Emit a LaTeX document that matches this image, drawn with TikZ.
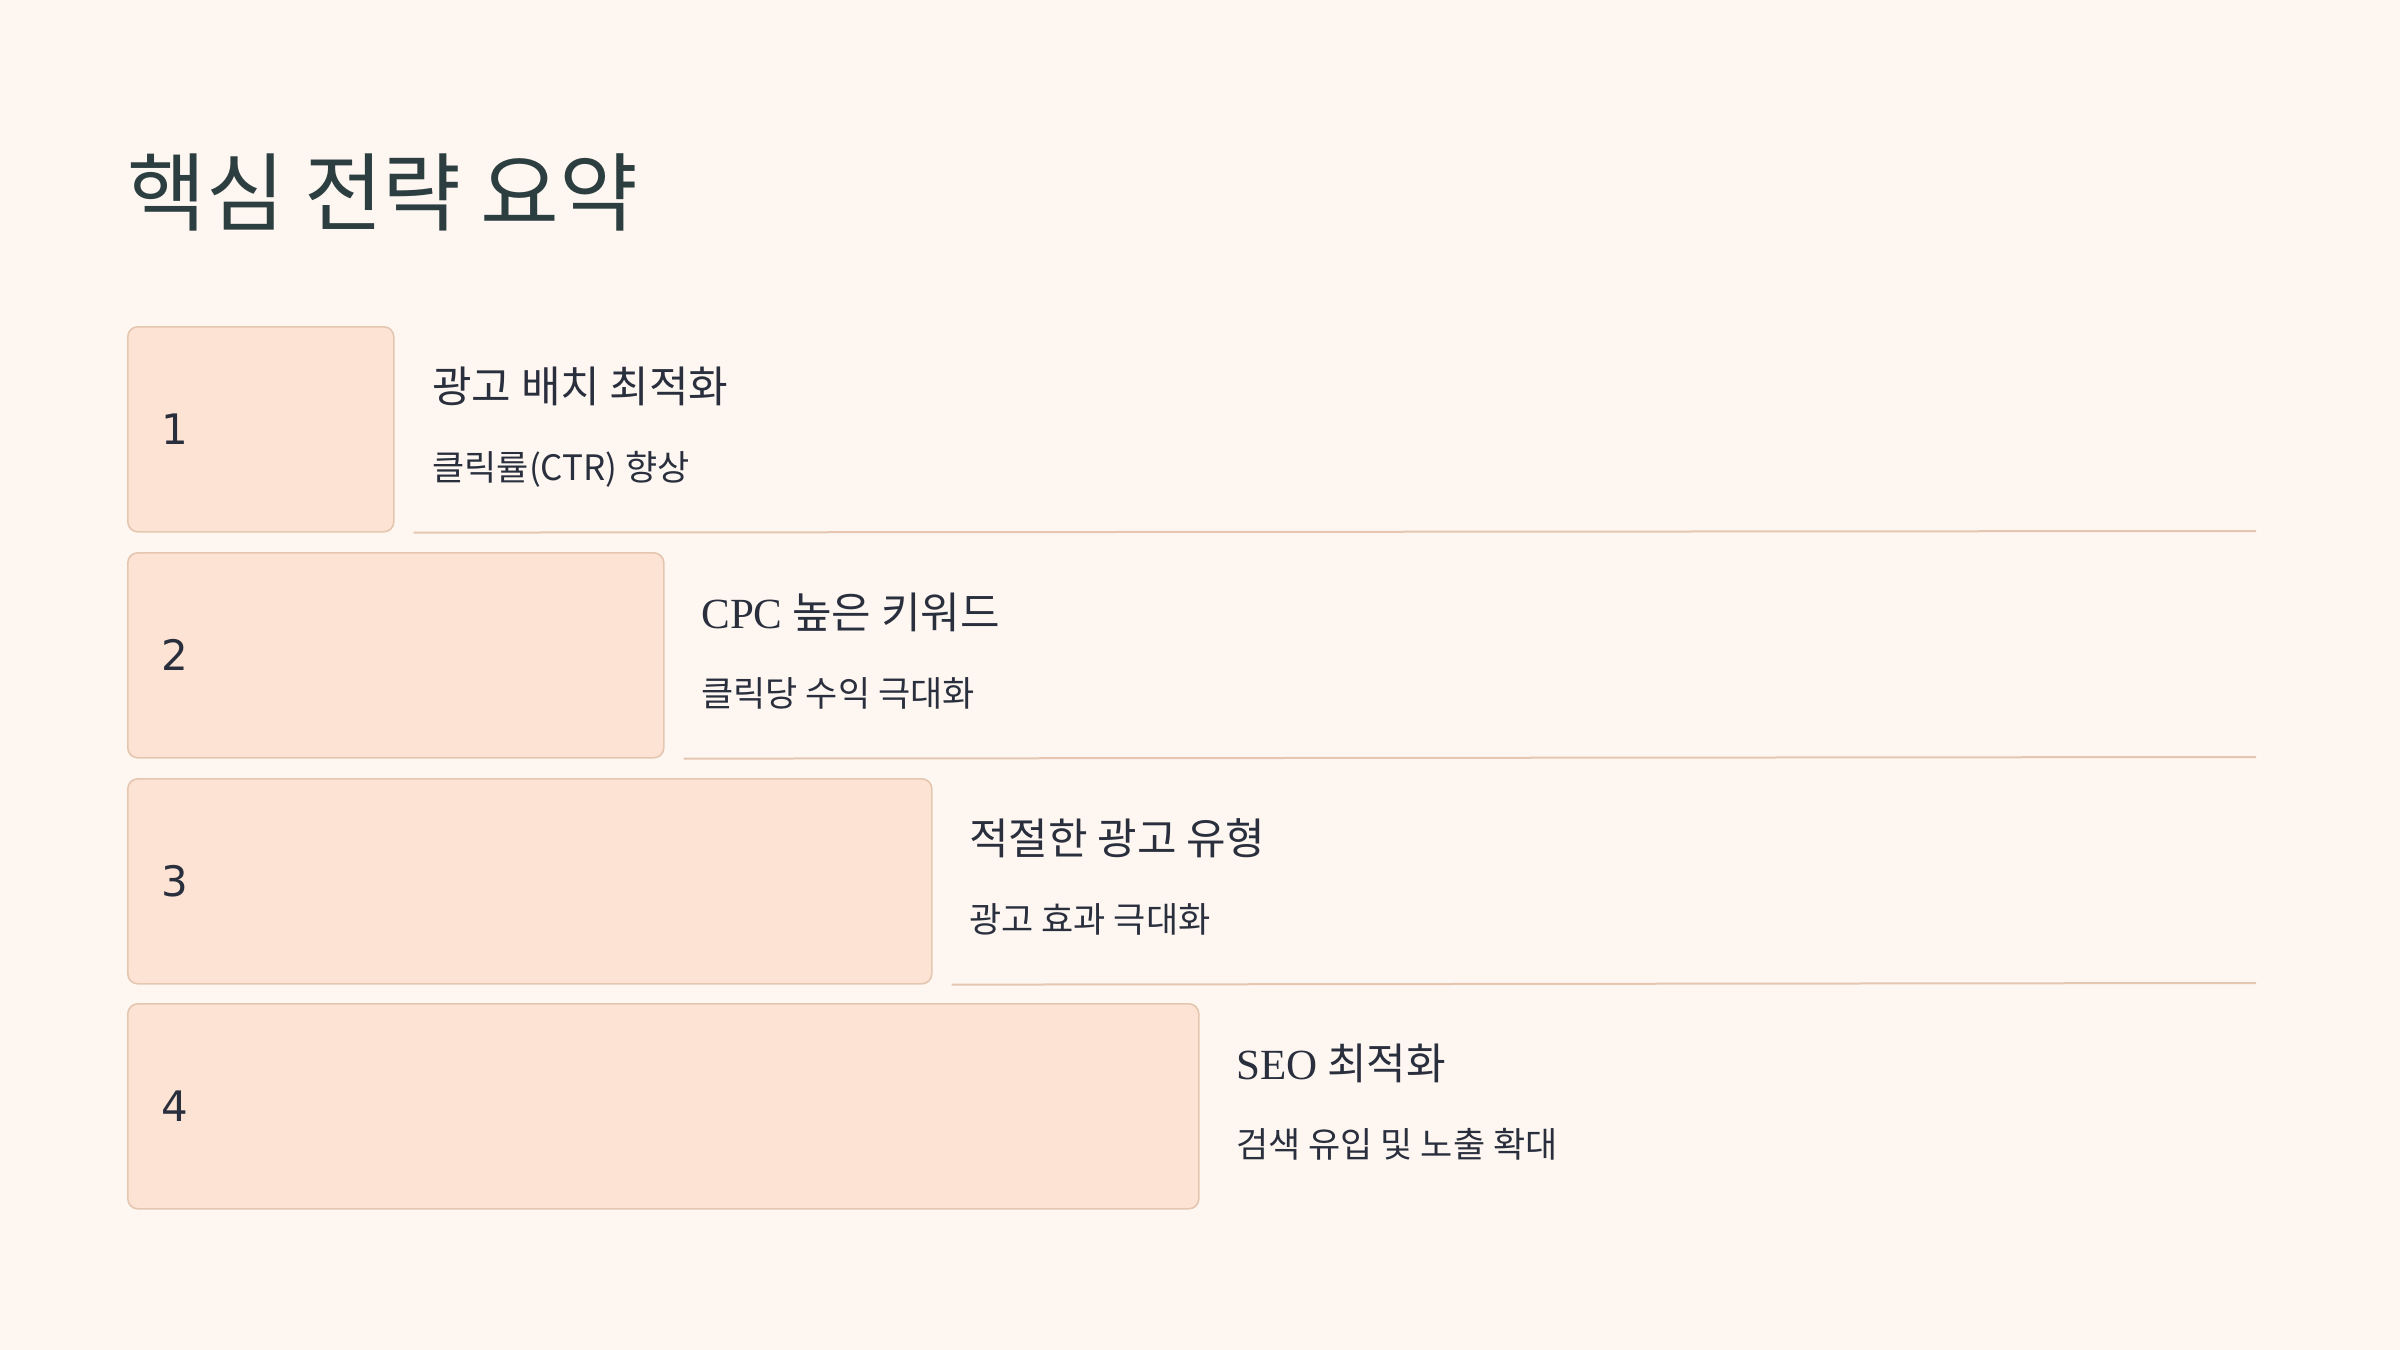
\documentclass[tikz,border=0pt]{standalone}
\usepackage{fontspec}
\setmainfont{Noto Sans CJK KR}[RawFeature=+palt]
\newfontfamily\kr{Noto Sans CJK KR}[RawFeature=+palt]
\newfontfamily\lat{Liberation Serif}[Scale=1.0]
\newfontfamily\numf{DejaVu Sans}
\definecolor{bgc}{HTML}{FEF7F1}
\definecolor{boxfill}{HTML}{FDE3D3}
\definecolor{boxline}{HTML}{E4C6B1}
\definecolor{titlec}{HTML}{2D3E40}
\definecolor{txtc}{HTML}{2A2F3E}
\tikzset{
  box/.style={draw=boxline, fill=boxfill, line width=0.8pt, rounded corners=5pt, anchor=north west, inner sep=0pt, minimum height=102.5pt},
  numtxt/.style={anchor=base west, inner sep=0pt, text=txtc, font=\numf\fontsize{21pt}{25pt}\selectfont},
  headtxt/.style={anchor=base west, inner sep=0pt, text=txtc, font=\kr\fontsize{21.5pt}{26pt}\selectfont},
  subtxt/.style={anchor=base west, inner sep=0pt, text=txtc, font=\kr\fontsize{17.5pt}{21pt}\selectfont},
  sepline/.style={draw=boxline, line width=1pt},
}
\begin{document}
\begin{tikzpicture}[x=0.5pt,y=-0.5pt]
\path[use as bounding box, fill=bgc] (0,0) rectangle (2400,1350);
\node[anchor=base west, inner sep=0pt, text=titlec, font=\kr\fontsize{42.8pt}{50pt}\selectfont] (title) at (127,224) {핵심 전략 요약};
% row 1
\node[box, minimum width=133pt] (b1) at (127,326) {};
\node[numtxt] (n1) at (161,444) {1};
\node[headtxt] (h1) at (432,402) {광고 배치 최적화};
\node[subtxt] (s1) at (432,480) {클릭률(CTR) 향상};
\coordinate (e1) at (2256,531);
\draw[sepline] ([xshift=9.5pt]b1.south east) -- (e1);
% row 2
\node[box, minimum width=268pt] (b2) at (127,552) {};
\node[numtxt] (n2) at (161,670) {2};
\node[headtxt] (h2) at (701,628) {{\lat CPC} 높은 키워드};
\node[subtxt] (s2) at (701,706) {클릭당 수익 극대화};
\coordinate (e2) at (2256,757);
\draw[sepline] ([xshift=9.5pt]b2.south east) -- (e2);
% row 3
\node[box, minimum width=402pt] (b3) at (127,778) {};
\node[numtxt] (n3) at (161,896) {3};
\node[headtxt] (h3) at (969,854) {적절한 광고 유형};
\node[subtxt] (s3) at (969,932) {광고 효과 극대화};
\coordinate (e3) at (2256,983);
\draw[sepline] ([xshift=9.5pt]b3.south east) -- (e3);
% row 4
\node[box, minimum width=535.5pt] (b4) at (127,1003) {};
\node[numtxt] (n4) at (161,1121) {4};
\node[headtxt] (h4) at (1236,1079) {{\lat SEO} 최적화};
\node[subtxt] (s4) at (1236,1157) {검색 유입 및 노출 확대};
\end{tikzpicture}
\end{document}
